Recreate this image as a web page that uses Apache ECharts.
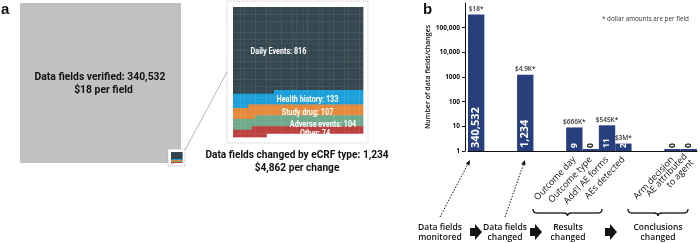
<!DOCTYPE html>
<html>
<head>
<meta charset="utf-8">
<script src="https://cdn.jsdelivr.net/npm/echarts@6/dist/echarts.min.js"></script>
<style>
  html, body { margin: 0; padding: 0; background: #fff; }
  #main { width: 700px; height: 243px; }
</style>
</head>
<body>
<div id="main"></div>
<script>
// panel a: fields verified vs fields changed (by eCRF type)
var verifiedFields = 340532;
var ecrfTypes = ['Daily Events', 'Health history', 'Study drug', 'Adverse events', 'Other'];
var ecrfCounts = [816, 133, 107, 104, 74];
var ecrfColors = ['#35474f', '#1ca0da', '#e4893b', '#70aa8c', '#bb403e'];
var waffleCols = 35;

// panel b: bars on a log axis (slots with no bar are null)
var barSlots = ['s0', 's1', 's2', 's3', 's4', 's5', 'Outcome day', 'Outcome type', "Add'l AE forms", 'AEs detected', 's10', 's11', 'Arm decision', 'AE attributed\nto agent'];
var barValues = [340532, null, null, 1234, null, null, 9, 0, 11, 2, null, null, 0, 0];
var costLabels = ['$18*', '', '', '$4.9K*', '', '', '$666K*', '', '$545K*', '$3M*', '', '', '', ''];
var yTicks = [1, 10, 100, 1000, 10000, 100000];

var myChart = echarts.init(document.getElementById('main'));

// waffle cells, filled from the top-left, row by row
var cells = [];
var k = 0;
for (var c = 0; c < ecrfCounts.length; c++) {
    for (var j = 0; j < ecrfCounts[c]; j++) {
        cells.push([k % waffleCols, Math.floor(k / waffleCols), c]);
        k++;
    }
}
var waffleRows = Math.ceil(k / waffleCols);

function cellRender(params, api) {
    var p = api.coord([api.value(0), api.value(1)]);
    var s = api.size([1, 1]);
    return {
        type: 'rect',
        shape: { x: p[0], y: p[1], width: s[0] + 0.35, height: s[1] + 0.35 },
        style: { fill: ecrfColors[api.value(2)] }
    };
}

function fmtTick(v) {
    return v >= 10000 ? v.toLocaleString('en-US') : String(v);
}

var condensed = 'Roboto, "Liberation Sans", sans-serif';
var sans = '"Open Sans", "Noto Sans", sans-serif';

function ctext(x, y, text, size, sx, color) {
    return {
        type: 'text', x: x, y: y, scaleX: sx, z: 20,
        style: {
            text: text, x: 0, y: 0, align: 'center', verticalAlign: 'middle',
            fontFamily: condensed, fontWeight: 'bold', fontSize: size, fill: color || '#111'
        }
    };
}
function btext(x, y, text) {
    return {
        type: 'text', x: x, y: y, z: 20,
        style: {
            text: text, x: 0, y: 0, align: 'center', verticalAlign: 'middle',
            fontFamily: sans, fontWeight: 600, fontSize: 8.5, lineHeight: 9.5, fill: '#111'
        }
    };
}
function blockArrow(x, y) {
    return {
        type: 'polygon', z: 20,
        shape: { points: [[x, y - 4], [x + 5, y - 4], [x + 5, y - 8], [x + 12, y], [x + 5, y + 8], [x + 5, y + 4], [x, y + 4]] },
        style: { fill: '#111' }
    };
}
function brace(x1, x2, y0) {
    var xm = (x1 + x2) / 2, y1 = y0 + 4, y2 = y0 + 7;
    var st = { fill: null, stroke: '#111', lineWidth: 1.3 };
    function curve(ax, ay, bx, by, cx, cy) {
        return { type: 'bezierCurve', z: 20, shape: { x1: ax, y1: ay, x2: bx, y2: by, cpx1: cx, cpy1: cy }, style: st };
    }
    function seg(ax, bx) {
        return { type: 'line', z: 20, shape: { x1: ax, y1: y1, x2: bx, y2: y1 }, style: st };
    }
    return [
        curve(x1, y0, x1 + 4, y1, x1, y1),
        seg(x1 + 4, xm - 4),
        curve(xm - 4, y1, xm, y2, xm, y1),
        curve(xm, y2, xm + 4, y1, xm, y1),
        seg(xm + 4, x2 - 4),
        curve(x2 - 4, y1, x2, y0, x2, y1)
    ];
}
function dottedArrow(x0, y0, x1, y1) {
    var dx = x1 - x0, dy = y1 - y0, L = Math.sqrt(dx * dx + dy * dy);
    var ux = dx / L, uy = dy / L;
    var bx = x1 - ux * 5, by = y1 - uy * 5;
    return [
        { type: 'line', z: 20, shape: { x1: x0, y1: y0, x2: bx, y2: by }, style: { stroke: '#111', lineWidth: 1, lineDash: [1.5, 1.5] } },
        { type: 'polygon', z: 20, shape: { points: [[x1, y1], [bx - uy * 2.2, by + ux * 2.2], [bx + uy * 2.2, by - ux * 2.2]] }, style: { fill: '#111' } }
    ];
}

var graphics = [
    { type: 'text', x: 1, y: 2, style: { text: 'a', fontFamily: '"Liberation Sans", Arial', fontWeight: 'bold', fontSize: 15, fill: '#111' } },
    { type: 'text', x: 423, y: 2, style: { text: 'b', fontFamily: '"Liberation Sans", Arial', fontWeight: 'bold', fontSize: 15, fill: '#111' } },
    { type: 'rect', z: 1, shape: { x: 20, y: 3, width: 161, height: 160 }, style: { fill: '#c0c1c3' } },
    ctext(100, 77.5, 'Data fields verified: ' + verifiedFields.toLocaleString('en-US'), 11.5, 0.9),
    ctext(103.5, 90.5, '$18 per field', 11.5, 0.9),
    { type: 'rect', z: 2, shape: { x: 168, y: 149, width: 17, height: 17 }, style: { fill: '#fff', stroke: '#aaa', lineWidth: 0.8, lineDash: [1, 1] } },
    { type: 'line', z: 2, shape: { x1: 185, y1: 150, x2: 227, y2: 72 }, style: { stroke: '#888', lineWidth: 0.6 } },
    { type: 'rect', z: 1, shape: { x: 227, y: 1, width: 141, height: 142 }, style: { fill: '#fff', stroke: '#bbb', lineWidth: 0.8, lineDash: [1, 1] } },
    ctext(278.5, 52, ecrfTypes[0] + ': ' + ecrfCounts[0], 8.5, 0.85, '#fff'),
    ctext(307.5, 100, ecrfTypes[1] + ': ' + ecrfCounts[1], 8.5, 0.85, '#fff'),
    ctext(307.5, 113, ecrfTypes[2] + ': ' + ecrfCounts[2], 8.5, 0.85, '#fff'),
    ctext(323, 124.5, ecrfTypes[3] + ': ' + ecrfCounts[3], 8.5, 0.85, '#fff'),
    ctext(315, 134, ecrfTypes[4] + ': ' + ecrfCounts[4], 8.5, 0.85, '#fff'),
    ctext(297, 155, 'Data fields changed by eCRF type: ' + k.toLocaleString('en-US'), 11.5, 0.88),
    ctext(297, 168, '$4,862 per change', 11.5, 0.88),
    { type: 'text', x: 602, y: 16, z: 20, style: { text: '* dollar amounts are per field', fontFamily: sans, fontSize: 6.3, fill: '#333' } },
    btext(440, 232.5, 'Data fields\nmonitored'),
    btext(505, 232.5, 'Data fields\nchanged'),
    btext(568, 232.5, 'Results\nchanged'),
    btext(658, 232.5, 'Conclusions\nchanged'),
    blockArrow(470, 232),
    blockArrow(530, 232),
    blockArrow(605, 232)
].concat(brace(533, 602, 209), brace(628, 688, 209),
    dottedArrow(440, 217, 470, 160), dottedArrow(505, 217, 525, 160));

option = {
    animation: false,
    grid: [
        { left: 171, top: 152, width: 11, height: 11 },
        { left: 233, top: 7, width: 130, height: 130 },
        { left: 468, right: 3, top: 3, bottom: 92 }
    ],
    xAxis: [
        { gridIndex: 0, type: 'value', min: 0, max: waffleCols, show: false },
        { gridIndex: 1, type: 'value', min: 0, max: waffleCols, show: false },
        {
            gridIndex: 2, type: 'category', data: barSlots,
            axisLine: { lineStyle: { color: '#111', width: 1 } },
            axisTick: { show: false },
            axisLabel: {
                interval: 0, rotate: 47, margin: 7, fontFamily: sans, fontSize: 9, color: '#111', lineHeight: 9,
                formatter: function (v) { return /^s\d+$/.test(v) ? '' : v; }
            }
        }
    ],
    yAxis: [
        { gridIndex: 0, type: 'value', min: 0, max: waffleRows, inverse: true, show: false },
        { gridIndex: 1, type: 'value', min: 0, max: waffleRows, inverse: true, show: false },
        {
            gridIndex: 2, type: 'log', logBase: 10, min: 1, max: 1000000, offset: 3,
            name: 'Number of data fields/changes', nameLocation: 'middle', nameGap: 26,
            nameTextStyle: { fontFamily: sans, fontWeight: 600, fontSize: 7, color: '#111' },
            axisLine: { show: true, lineStyle: { color: '#111', width: 1 } },
            axisTick: { show: true, length: 3, customValues: yTicks, lineStyle: { color: '#111' } },
            splitLine: { show: false },
            axisLabel: {
                customValues: yTicks, margin: 5, fontFamily: sans, fontWeight: 'bold', fontSize: 6.5, color: '#111',
                formatter: fmtTick
            }
        }
    ],
    graphic: graphics,
    series: [
        { type: 'custom', xAxisIndex: 0, yAxisIndex: 0, data: cells, renderItem: cellRender, silent: true },
        { type: 'custom', xAxisIndex: 1, yAxisIndex: 1, data: cells, renderItem: cellRender, silent: true },
        {
            type: 'bar', xAxisIndex: 2, yAxisIndex: 2, barWidth: '100%', barMinHeight: 2,
            itemStyle: { color: '#283f7e' },
            data: barValues.map(function (v) { return v == null ? '-' : Math.max(v, 1); }),
            label: {
                show: true, position: 'insideBottom', rotate: 90, align: 'left', verticalAlign: 'middle', distance: 3,
                fontFamily: sans, fontWeight: 'bold',
                formatter: function (p) {
                    var v = barValues[p.dataIndex];
                    var big = v >= 1000;
                    var col = v === 0 ? 'z' : (big ? 'b' : 's');
                    return '{' + col + '|' + v.toLocaleString('en-US') + '}';
                },
                rich: {
                    b: { color: '#fff', fontSize: 11, fontWeight: 'bold', fontFamily: sans },
                    s: { color: '#fff', fontSize: 8.5, fontWeight: 'bold', fontFamily: sans },
                    z: { color: '#111', fontSize: 8.5, fontWeight: 'bold', fontFamily: sans }
                }
            }
        },
        {
            type: 'bar', xAxisIndex: 2, yAxisIndex: 2, barWidth: '100%', barGap: '-100%', silent: true,
            itemStyle: { color: 'rgba(0,0,0,0)' },
            data: barValues.map(function (v) { return v == null ? '-' : Math.max(v, 1); }),
            label: {
                show: true, position: 'top', distance: 2, fontFamily: sans, fontWeight: 600, fontSize: 6.5, color: '#333',
                formatter: function (p) { return costLabels[p.dataIndex]; }
            }
        }
    ]
};
myChart.setOption(option);
</script>
</body>
</html>
